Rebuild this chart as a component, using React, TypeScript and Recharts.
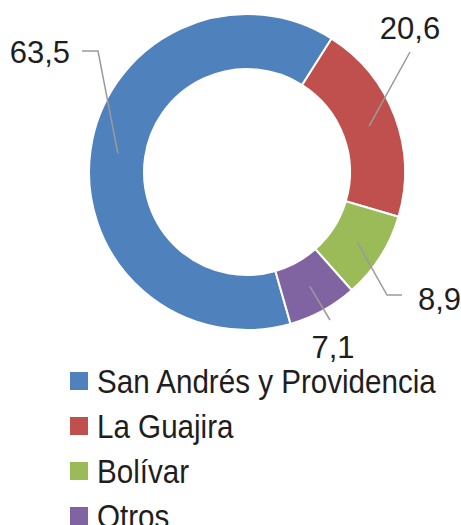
import React from 'react';
import { PieChart, Pie, Cell, Legend } from 'recharts';

const categories = ['San Andrés y Providencia', 'La Guajira', 'Bolívar', 'Otros'];
const shares = [63.5, 20.6, 8.9, 7.1];
const labels = ['63,5', '20,6', '8,9', '7,1'];

const COLORS = ['#4F81BD', '#C0504D', '#9BBB59', '#8064A2'];
const FONT = '"Liberation Sans", Arial, sans-serif';

// where each label sits relative to the pie centre (manually placed, as in the original)
const LABEL_LAYOUT = [
  { elbow: [-149, -121], end: [-165, -121], text: [-177, -120], anchor: 'end' },
  { elbow: null, end: [163, -120], text: [163, -144], anchor: 'middle' },
  { elbow: [140, 123], end: [155, 123], text: [171, 127], anchor: 'start' },
  { elbow: null, end: [83, 148], text: [86, 175], anchor: 'middle' },
];

const data = categories.map((name, i) => ({ name, value: shares[i] }));

const RADIAN = Math.PI / 180;
const renderLabel = ({ cx, cy, midAngle, innerRadius, outerRadius, index }: any) => {
  const r = (innerRadius + outerRadius) / 2;
  const x0 = cx + r * Math.cos(-midAngle * RADIAN);
  const y0 = cy + r * Math.sin(-midAngle * RADIAN);
  const lay = LABEL_LAYOUT[index];
  const pts = [[x0, y0]];
  if (lay.elbow) pts.push([cx + lay.elbow[0], cy + lay.elbow[1]]);
  pts.push([cx + lay.end[0], cy + lay.end[1]]);
  return (
    <g key={`lbl-${index}`}>
      <polyline points={pts.map((p) => p.join(',')).join(' ')} fill="none" stroke="#9a9a9a" strokeWidth={1.5} />
      <text
        x={cx + lay.text[0]}
        y={cy + lay.text[1]}
        textAnchor={lay.anchor}
        dominantBaseline="central"
        fill="#1e1e1e"
        style={{ fontFamily: FONT, fontSize: 31 }}
      >
        {labels[index]}
      </text>
    </g>
  );
};

const renderLegend = (props: any) => {
  const items = [...(props.payload || [])].sort(
    (a: any, b: any) => categories.indexOf(a.value) - categories.indexOf(b.value)
  );
  return (
    <div style={{ fontFamily: FONT, fontSize: 34, color: '#1e1e1e' }}>
      {items.map((entry: any) => {
        const i = categories.indexOf(entry.value);
        return (
          <div key={`leg-${i}`} style={{ display: 'flex', alignItems: 'center', height: 45 }}>
            <span style={{ display: 'inline-block', width: 18, height: 18, background: COLORS[i], marginRight: 9, flex: 'none' }} />
            <span
              style={{
                display: 'inline-block',
                whiteSpace: 'pre',
                lineHeight: '30px',
                transform: 'scaleX(0.87)',
                transformOrigin: 'left center',
              }}
            >
              {entry.value}
            </span>
          </div>
        );
      })}
    </div>
  );
};

export default function App() {
  return (
    <div style={{ position: 'absolute', left: 0, top: 0, width: 461, height: 525, background: '#fff', overflow: 'hidden' }}>
      <PieChart width={461} height={525} margin={{ top: 0, right: 0, bottom: 0, left: 0 }}>
        <Pie
          data={data}
          dataKey="value"
          nameKey="name"
          cx={247}
          cy={172}
          innerRadius={103}
          outerRadius={158}
          startAngle={-74}
          endAngle={-434}
          stroke="#fff"
          strokeWidth={2}
          labelLine={false}
          label={renderLabel}
          isAnimationActive={false}
        >
          {data.map((_, i) => (
            <Cell key={`cell-${i}`} fill={COLORS[i]} />
          ))}
        </Pie>
        <Legend
          content={renderLegend}
          wrapperStyle={{ position: 'absolute', left: 70, top: 358, width: 391, bottom: 'auto' }}
        />
      </PieChart>
    </div>
  );
}
